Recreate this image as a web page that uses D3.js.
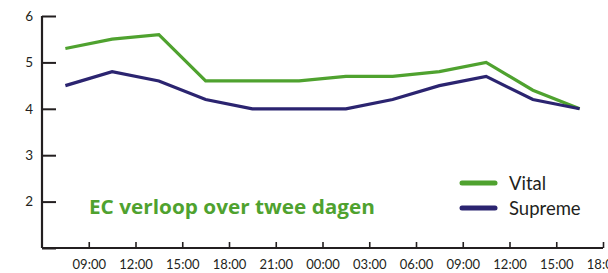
<!DOCTYPE html>
<html><head><meta charset="utf-8">
<script src="https://cdn.jsdelivr.net/npm/d3@7"></script>
<style>body{margin:0;background:#fff}svg{display:block}</style>
</head><body><svg id="c" width="608" height="273"></svg>
<script>
const times = ["2020-01-01T07:30","2020-01-01T10:30","2020-01-01T13:30","2020-01-01T16:30","2020-01-01T19:30","2020-01-01T22:30","2020-01-02T01:30","2020-01-02T04:30","2020-01-02T07:30","2020-01-02T10:30","2020-01-02T13:30","2020-01-02T16:30"];
const vital = [5.3,5.5,5.6,4.6,4.6,4.6,4.7,4.7,4.8,5.0,4.4,4.0];
const supreme = [4.5,4.8,4.6,4.2,4.0,4.0,4.0,4.2,4.5,4.7,4.2,4.0];
const seriesNames = ["Vital","Supreme"];
const xTicks = ["2020-01-01T09:00","2020-01-01T12:00","2020-01-01T15:00","2020-01-01T18:00","2020-01-01T21:00","2020-01-02T00:00","2020-01-02T03:00","2020-01-02T06:00","2020-01-02T09:00","2020-01-02T12:00","2020-01-02T15:00","2020-01-02T18:00"];
const xTickLabels = ["09:00","12:00","15:00","18:00","21:00","00:00","03:00","06:00","09:00","12:00","15:00","18:00"];
const yTicks = [1,2,3,4,5,6];
const title = "EC verloop over twee dagen";
const colors = ["#4fa22f","#2b2470"];

const parse = d3.isoParse;
const svg = d3.select("#c");
const x = d3.scaleTime().domain([parse("2020-01-01T06:00"), parse("2020-01-02T18:00")]).range([42, 603]);
const y = d3.scaleLinear().domain([1,6]).range([248,16]);
const font = "Lato, 'Open Sans', sans-serif";

// y axis
const ya = svg.append("g").attr("transform","translate(42,0)")
  .call(d3.axisRight(y).tickValues(yTicks).tickSize(14).tickFormat(d => d===1 ? "" : d));
ya.select(".domain").attr("stroke","#231f20").attr("stroke-width",2.2).attr("d","M0,"+y(6)+"V"+y(1));
ya.selectAll(".tick line").attr("stroke","#231f20").attr("stroke-width",2);
ya.selectAll(".tick text").attr("x",-9).attr("text-anchor","end").attr("font-family",font).attr("font-size",13.5).attr("fill","#231f20");

// x axis
const xa = svg.append("g").attr("transform","translate(0,248)")
  .call(d3.axisBottom(x).tickValues(xTicks.map(parse)).tickSize(-6).tickFormat((d,i)=>xTickLabels[i]));
xa.select(".domain").attr("stroke","#231f20").attr("stroke-width",2).attr("d","M"+x.range()[0]+",0H"+x.range()[1]);
xa.selectAll(".tick line").attr("stroke","#231f20").attr("stroke-width",1.6);
xa.selectAll(".tick text").attr("y",12).attr("font-family",font).attr("font-size",13).attr("fill","#231f20");

const line = d3.line().x((d,i)=>x(parse(times[i]))).y(d=>y(d));
[vital, supreme].forEach((s,k)=>{
  svg.append("path").attr("d", line(s)).attr("fill","none").attr("stroke",colors[k]).attr("stroke-width",3.2).attr("stroke-linejoin","miter");
});

svg.append("text").attr("x",89).attr("y",214).text(title).attr("font-family","'Open Sans', sans-serif").attr("font-weight","bold").attr("font-size",19).attr("fill","#4fa22f")
  .attr("textLength",286).attr("lengthAdjust","spacingAndGlyphs");

seriesNames.forEach((n,k)=>{
  const yy = 183 + k*25;
  svg.append("line").attr("x1",462).attr("x2",495).attr("y1",yy).attr("y2",yy).attr("stroke",colors[k]).attr("stroke-width",5).attr("stroke-linecap","round");
  svg.append("text").attr("x",509).attr("y",yy+6.5).text(n).attr("font-family",font).attr("font-size",18.5).attr("fill","#231f20");
});
</script></body></html>
